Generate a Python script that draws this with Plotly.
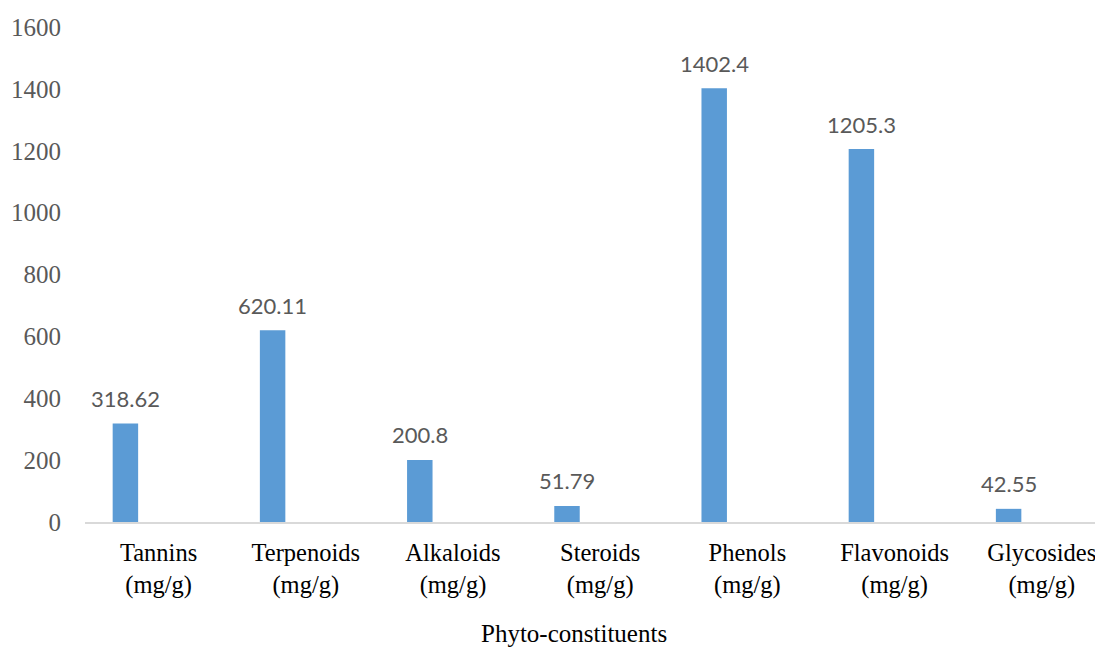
import plotly.graph_objects as go

categories = ["Tannins<br>(mg/g)", "Terpenoids<br>(mg/g)", "Alkaloids<br>(mg/g)", "Steroids<br>(mg/g)",
              "Phenols<br>(mg/g)", "Flavonoids<br>(mg/g)", "Glycosides<br>(mg/g)"]
values = [318.62, 620.11, 200.8, 51.79, 1402.4, 1205.3, 42.55]
value_labels = ["318.62", "620.11", "200.8", "51.79", "1402.4", "1205.3", "42.55"]
y_ticks = [0, 200, 400, 600, 800, 1000, 1200, 1400, 1600]
x_title = "Phyto-constituents"

BAR_W = 0.173
BAR_OFF = -0.312

# page body has an 8px margin; figure is sized so that it still fills the window
fig = go.Figure()
fig.add_trace(go.Bar(
    x=list(range(len(categories))), y=values,
    width=BAR_W, offset=BAR_OFF,
    marker=dict(color="#5B9BD5", line=dict(width=0)),
    hoverinfo="skip",
))

annotations = []
for i, (v, t) in enumerate(zip(values, value_labels)):
    annotations.append(dict(
        x=i + BAR_OFF + BAR_W / 2, y=v, xref="x", yref="y", text=t,
        showarrow=False, yanchor="middle", yshift=25,
        font=dict(family="Lato", size=22, color="#595959"),
    ))
annotations.append(dict(
    x=0.48, y=-0.226, xref="paper", yref="paper", text=x_title,
    showarrow=False, xanchor="center", yanchor="middle",
    font=dict(family="Liberation Serif", size=25, color="#000000"),
))

fig.update_layout(
    width=1095, height=642,
    margin=dict(l=77, r=0, t=19, b=128, autoexpand=False),
    paper_bgcolor="white", plot_bgcolor="white",
    showlegend=False,
    annotations=annotations,
    xaxis=dict(
        tickmode="array", tickvals=list(range(len(categories))), ticktext=categories,
        range=[-0.5, -0.5 + 1018 / 147.2],
        showgrid=False, zeroline=False,
        showline=True, linecolor="#D9D9D9", linewidth=1.5,
        ticks="", ticklabelstandoff=8,
        tickfont=dict(family="Liberation Serif", size=24.5, color="#000000"),
    ),
    yaxis=dict(
        range=[0, 1600], tickvals=y_ticks,
        showgrid=False, zeroline=False, showline=False,
        ticks="", ticklabelstandoff=23,
        tickfont=dict(family="Liberation Serif", size=25, color="#595959"),
    ),
)

fig.write_html("out.html")
